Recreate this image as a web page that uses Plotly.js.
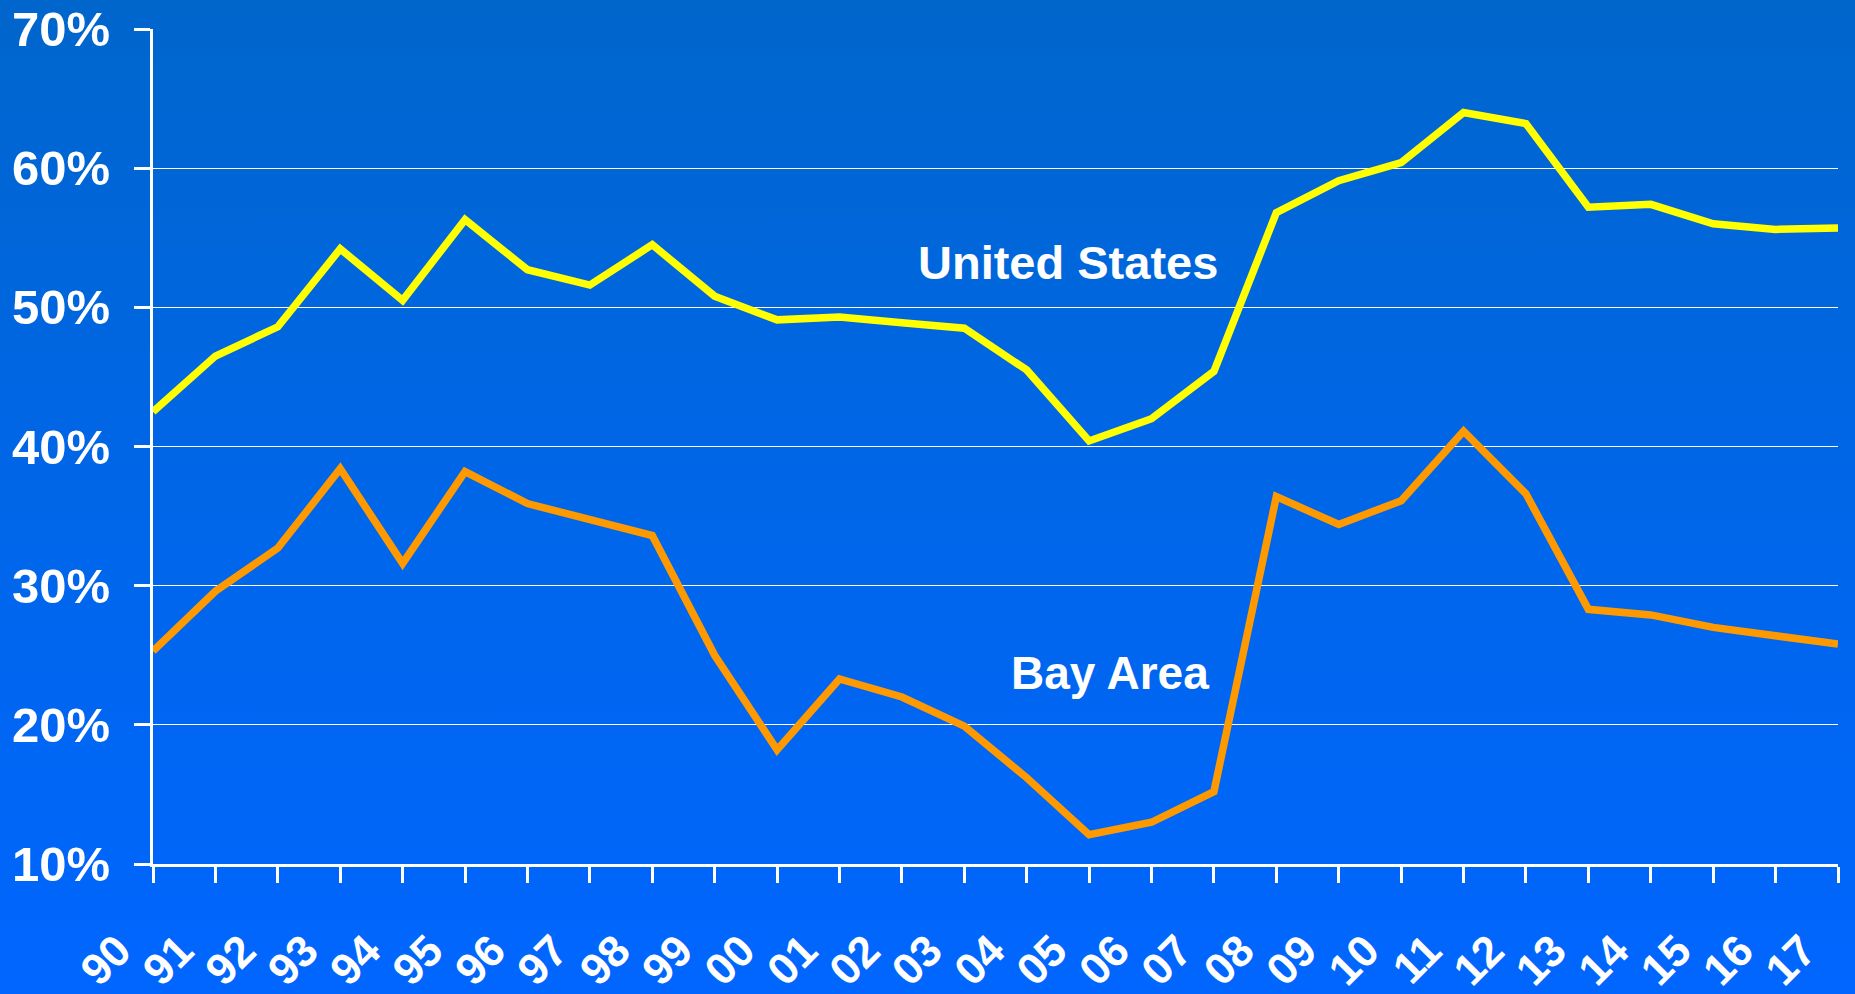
<!DOCTYPE html>
<html>
<head>
<meta charset="utf-8">
<script src="https://cdn.plot.ly/plotly-3.0.1.min.js"></script>
<style>
  html, body { margin: 0; padding: 0; width: 1855px; height: 994px; overflow: hidden;
    background: linear-gradient(to bottom, #0066cc 0%, #0066e6 45%, #0066ff 100%); }
  #chart { width: 1855px; height: 994px; }
</style>
</head>
<body>
<div id="chart"></div>
<script>
const years = ['90','91','92','93','94','95','96','97','98','99','00','01','02','03','04','05','06','07','08','09','10','11','12','13','14','15','16','17'];
const unitedStates = [42.5,46.5,48.6,54.2,50.5,56.3,52.7,51.6,54.5,50.8,49.1,49.3,48.9,48.5,45.5,40.4,42.0,45.4,56.8,59.1,60.4,64.0,63.2,57.2,57.4,56.0,55.6,55.7];
const bayArea = [25.3,29.6,32.7,38.4,31.6,38.2,35.9,34.7,33.6,25.0,18.2,23.3,22.0,19.9,16.2,12.1,13.0,15.2,36.4,34.4,36.1,41.1,36.6,28.3,27.9,27.0,26.4,25.8];
const yTicks = [10,20,30,40,50,60,70];
const yTickText = ['10%','20%','30%','40%','50%','60%','70%'];

const font = 'Liberation Sans, Arial, sans-serif';

const traces = [
  { x: years, y: unitedStates, type: 'scatter', mode: 'lines', name: 'United States',
    line: { color: '#FFFF00', width: 7.5 }, hoverinfo: 'x+y' },
  { x: years, y: bayArea, type: 'scatter', mode: 'lines', name: 'Bay Area',
    line: { color: '#FF9900', width: 7.5 }, hoverinfo: 'x+y' }
];

const layout = {
  width: 1855, height: 994,
  margin: { l: 153, r: 17, t: 29, b: 130 },
  paper_bgcolor: 'rgba(0,0,0,0)',
  plot_bgcolor: 'rgba(0,0,0,0)',
  showlegend: false,
  font: { family: font, color: '#FFFFFF' },
  xaxis: {
    type: 'category', range: [0, 27], fixedrange: true,
    showgrid: false, zeroline: false,
    showline: true, linecolor: '#FFFFFF', linewidth: 3,
    ticks: 'outside', ticklen: 16, tickwidth: 3, tickcolor: '#FFFFFF',
    tickangle: -45,
    ticklabelstandoff: 24, ticklabelshift: -35,
    tickfont: { family: font, size: 44, color: '#FFFFFF', weight: 'bold' }
  },
  yaxis: {
    range: [10, 70], fixedrange: true,
    tickvals: yTicks, ticktext: yTickText,
    showgrid: true, gridcolor: '#FFFFFF', gridwidth: 1,
    zeroline: false,
    showline: true, linecolor: '#FFFFFF', linewidth: 3,
    ticks: 'outside', ticklen: 16, tickwidth: 3, tickcolor: '#FFFFFF',
    ticklabelstandoff: 14,
    tickfont: { family: font, size: 49, color: '#FFFFFF', weight: 'bold' }
  },
  annotations: [
    { x: 14.66, y: 53.2, xref: 'x', yref: 'y', text: '<b>United States</b>', showarrow: false,
      font: { family: font, size: 47, color: '#FFFFFF' } },
    { x: 15.34, y: 23.7, xref: 'x', yref: 'y', text: '<b>Bay Area</b>', showarrow: false,
      font: { family: font, size: 46, color: '#FFFFFF' } }
  ]
};

Plotly.newPlot('chart', traces, layout, { displayModeBar: false, staticPlot: true });
</script>
</body>
</html>
